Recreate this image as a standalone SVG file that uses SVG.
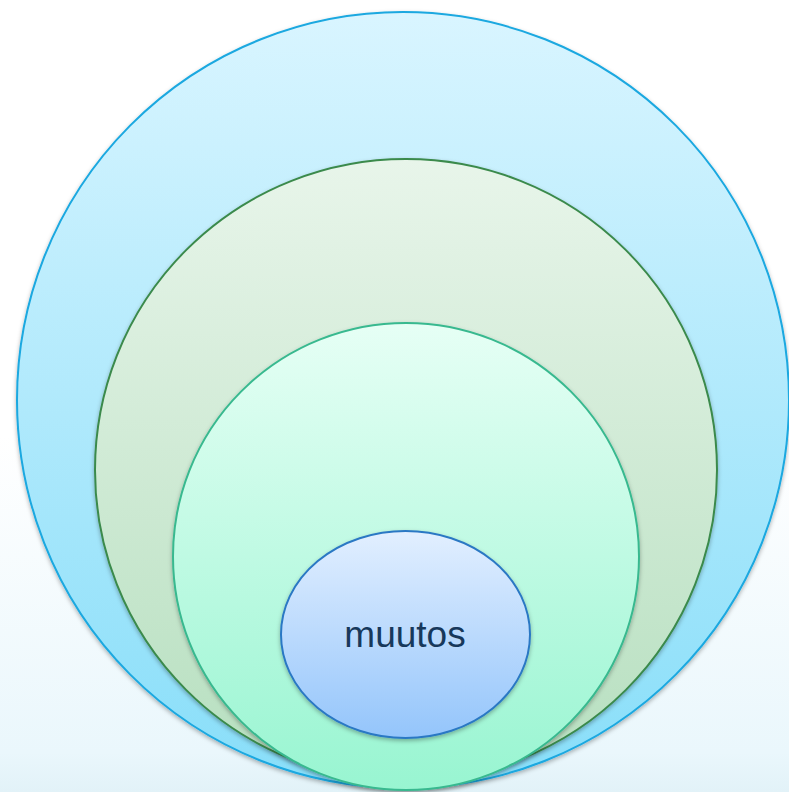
<svg xmlns="http://www.w3.org/2000/svg" width="789" height="792" viewBox="0 0 789 792">
<defs>
<linearGradient id="bg" x1="0" y1="0" x2="0" y2="1">
<stop offset="0" stop-color="#ffffff"/>
<stop offset="0.55" stop-color="#ffffff"/>
<stop offset="0.95" stop-color="#eaf7fc"/>
<stop offset="1" stop-color="#e2f2f8"/>
</linearGradient>
<linearGradient id="g1" x1="0" y1="0" x2="0" y2="1">
<stop offset="0" stop-color="#d9f5ff"/>
<stop offset="1" stop-color="#88def9"/>
</linearGradient>
<linearGradient id="g2" x1="0" y1="0" x2="0" y2="1">
<stop offset="0" stop-color="#e8f5ea"/>
<stop offset="1" stop-color="#b6dfbf"/>
</linearGradient>
<linearGradient id="g3" x1="0" y1="0" x2="0" y2="1">
<stop offset="0" stop-color="#e6fff5"/>
<stop offset="1" stop-color="#98f5d1"/>
</linearGradient>
<linearGradient id="g4" x1="0" y1="0" x2="0" y2="1">
<stop offset="0" stop-color="#e2efff"/>
<stop offset="1" stop-color="#94c5fb"/>
</linearGradient>
<filter id="sh" x="-10%" y="-10%" width="120%" height="125%">
<feDropShadow dx="0" dy="2" stdDeviation="2" flood-color="#000" flood-opacity="0.3"/>
</filter>
<style>
.ring{stroke-width:2;filter:url(#sh)}
.lbl{font-family:"Liberation Sans",Arial,sans-serif;font-size:37px;fill:#17385b;text-anchor:middle}
</style>
</defs>
<rect width="789" height="792" fill="url(#bg)"/>
<g id="outer"><ellipse class="ring" cx="403" cy="400" rx="386" ry="388" fill="url(#g1)" stroke="#1aa8e0"/></g>
<g id="middle"><ellipse class="ring" cx="406" cy="470" rx="311" ry="311" fill="url(#g2)" stroke="#3a8a4c"/></g>
<g id="inner"><ellipse class="ring" cx="406" cy="556.5" rx="233" ry="233.5" fill="url(#g3)" stroke="#38b98f"/></g>
<g id="muutos"><ellipse class="ring" cx="405.5" cy="634.5" rx="124.5" ry="103.5" fill="url(#g4)" stroke="#2a78c4"/>
<text class="lbl" x="405" y="647">muutos</text></g>
<g id="connectors"/>
</svg>
